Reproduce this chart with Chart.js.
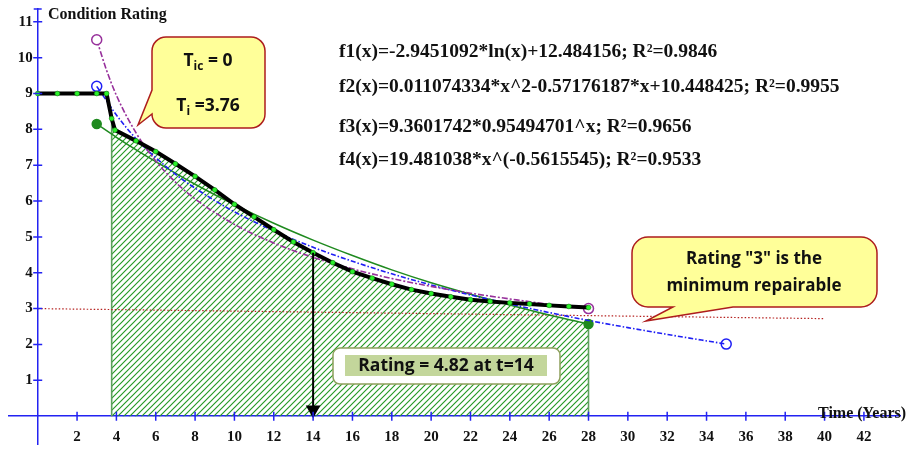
<!DOCTYPE html>
<html>
<head>
<meta charset="utf-8">
<title>Condition rating vs time</title>
<script src="https://cdn.jsdelivr.net/npm/chart.js@4.4.1/dist/chart.umd.min.js"></script>
<style>
  body { margin: 0; background: #fff; }
  #wrap { width: 909px; height: 453px; }
</style>
</head>
<body>
<div id="wrap"><canvas id="deterioration" width="909" height="453"></canvas></div>
<script>
// observed condition ratings (thick black line with green dots)
const observedYears  = [0, 1, 2, 3, 3.5, 3.76, 3.93, 5, 6, 7, 8, 9, 10, 11, 12, 13, 14, 15, 16, 17, 18, 19, 20, 21, 22, 23, 24, 25, 26, 27, 28];
const observedRating = [9, 9, 9, 9, 9, 8.3, 7.98, 7.68, 7.38, 7.04, 6.69, 6.31, 5.91, 5.56, 5.2, 4.86, 4.56, 4.28, 4.03, 3.85, 3.68, 3.53, 3.42, 3.33, 3.25, 3.2, 3.16, 3.13, 3.09, 3.06, 3.03];

// f1 logarithmic fit (blue dash-dot)
const f1Years  = [3, 3.5, 4, 5, 6, 7, 8, 10, 12, 14, 16, 18, 20, 22, 24, 26, 28, 30, 32, 35];
const f1Rating = [9.2, 8.8, 8.4, 7.74, 7.21, 6.75, 6.36, 5.7, 5.17, 4.71, 4.32, 3.97, 3.66, 3.38, 3.13, 2.89, 2.67, 2.47, 2.28, 2.01];

// f3 exponential fit (green solid)
const f3Years  = [3, 4, 6, 8, 10, 12, 14, 16, 18, 20, 22, 24, 26, 28];
const f3Rating = [8.15, 7.78, 7.1, 6.47, 5.9, 5.38, 4.91, 4.48, 4.08, 3.72, 3.4, 3.1, 2.82, 2.57];

// f4 power fit (purple dash-dot)
const f4Years  = [3, 3.5, 4, 5, 6, 7, 8, 10, 12, 14, 16, 18, 20, 22, 24, 26, 28];
const f4Rating = [10.5, 9.65, 8.95, 7.9, 7.12, 6.53, 6.06, 5.35, 4.83, 4.43, 4.11, 3.84, 3.62, 3.43, 3.27, 3.12, 3.0];

// hatched service-life area, from Ti = 3.76 to t = 28
const areaYears  = [3.76, 3.76, 3.93, 5, 6, 7, 8, 9, 10, 11, 12, 13, 14, 15, 16, 17, 18, 19, 20, 21, 22, 23, 24, 26, 28, 28];
const areaRating = [0, 8.3, 7.98, 7.68, 7.38, 7.04, 6.69, 6.31, 5.91, 5.56, 5.2, 4.86, 4.56, 4.28, 4.03, 3.85, 3.68, 3.53, 3.42, 3.33, 3.25, 3.2, 3.1, 2.82, 2.57, 0];

// minimum repairable rating line
const thresholdYears  = [0, 40];
const thresholdRating = [3, 2.72];

// rating read-off arrow at t = 14
const arrowYears  = [14, 14];
const arrowRating = [4.56, 0.18];

const fitEquations = [
  'f1(x)=-2.9451092*ln(x)+12.484156; R\u00b2=0.9846',
  'f2(x)=0.011074334*x^2-0.57176187*x+10.448425; R\u00b2=0.9955',
  'f3(x)=9.3601742*0.95494701^x; R\u00b2=0.9656',
  'f4(x)=19.481038*x^(-0.5615545); R\u00b2=0.9533'
];

const axisColor = '#2323f2';
const serif = '"Liberation Serif", "Times New Roman", serif';
const sans = '"Open Sans", Lato, sans-serif';

const toPoints = (xs, ys) => xs.map((x, i) => ({ x, y: ys[i] }));
const endsOnly = (n, r) => Array.from({ length: n }, (_, i) => (i === 0 || i === n - 1 ? r : 0));

const canvas = document.getElementById('deterioration');

// diagonal green hatching for the area under the curve
const hatch = (() => {
  const c = document.createElement('canvas');
  c.width = 6; c.height = 6;
  const g = c.getContext('2d');
  g.strokeStyle = '#249a24';
  g.lineWidth = 1.15;
  g.beginPath();
  g.moveTo(0, 6); g.lineTo(6, 0);
  g.moveTo(-1, 1); g.lineTo(1, -1);
  g.moveTo(5, 7); g.lineTo(7, 5);
  g.stroke();
  return canvas.getContext('2d').createPattern(c, 'repeat');
})();

// crossing tick marks and the cap on top of the rating axis
const axisMarks = {
  id: 'axisMarks',
  afterDatasetsDraw(chart) {
    const { ctx, scales: { x, y } } = chart;
    const x0 = x.getPixelForValue(0);
    const y0 = y.getPixelForValue(0);
    ctx.save();
    ctx.strokeStyle = axisColor;
    ctx.lineWidth = 1.5;
    ctx.beginPath();
    x.ticks.forEach(t => {
      if (t.value === 0) return;
      const p = x.getPixelForValue(t.value);
      ctx.moveTo(p, y0 - 4.5); ctx.lineTo(p, y0 + 4.5);
    });
    y.ticks.forEach(t => {
      if (t.value === 0) return;
      const p = y.getPixelForValue(t.value);
      ctx.moveTo(x0 - 4.5, p); ctx.lineTo(x0 + 4.5, p);
    });
    ctx.moveTo(x0 - 4, chart.chartArea.top + 0.5);
    ctx.lineTo(x0 + 4, chart.chartArea.top + 0.5);
    ctx.stroke();
    ctx.restore();
  }
};

function drawRuns(ctx, runs, cx, baseline) {
  // runs: [text, fontSize, baselineShift]
  let total = 0;
  runs.forEach(r => { ctx.font = `bold ${r[1]}px ${sans}`; total += ctx.measureText(r[0]).width; });
  let x = cx - total / 2;
  ctx.textAlign = 'left';
  ctx.textBaseline = 'alphabetic';
  runs.forEach(r => {
    ctx.font = `bold ${r[1]}px ${sans}`;
    ctx.fillText(r[0], x, baseline + r[2]);
    x += ctx.measureText(r[0]).width;
  });
}

const annotations = {
  id: 'annotations',
  afterDraw(chart) {
    const ctx = chart.ctx;
    ctx.save();

    // axis titles
    ctx.fillStyle = '#111';
    ctx.textBaseline = 'middle';
    ctx.textAlign = 'left';
    ctx.font = `bold 16px ${serif}`;
    ctx.fillText('Condition Rating', 48, 15);
    ctx.fillText('Time (Years)', 818, 414);

    // fit equations
    ctx.font = `bold 19.5px ${serif}`;
    [52, 87, 127, 160].forEach((yy, i) => ctx.fillText(fitEquations[i], 339, yy));

    // callout: Tic / Ti
    ctx.lineWidth = 1.5;
    ctx.strokeStyle = '#ad1d1d';
    ctx.fillStyle = '#ffff99';
    let L = 152, T = 37, R = 265, B = 128, r = 14;
    ctx.beginPath();
    ctx.moveTo(L + r, T);
    ctx.lineTo(R - r, T); ctx.arcTo(R, T, R, T + r, r);
    ctx.lineTo(R, B - r); ctx.arcTo(R, B, R - r, B, r);
    ctx.lineTo(L + r, B); ctx.arcTo(L, B, L, B - r, r);
    ctx.lineTo(138, 125);
    ctx.lineTo(L, 90);
    ctx.lineTo(L, T + r); ctx.arcTo(L, T, L + r, T, r);
    ctx.closePath();
    ctx.fill(); ctx.stroke();
    ctx.fillStyle = '#111';
    drawRuns(ctx, [['T', 17.5, 0], ['ic', 12, 4], [' = 0', 17.5, 0]], 208, 66);
    drawRuns(ctx, [['T', 17.5, 0], ['i', 12, 4], [' =3.76', 17.5, 0]], 208, 111);

    // callout: minimum repairable rating
    ctx.fillStyle = '#ffff99';
    L = 632; T = 237; R = 877; B = 307; r = 16;
    ctx.beginPath();
    ctx.moveTo(L + r, T);
    ctx.lineTo(R - r, T); ctx.arcTo(R, T, R, T + r, r);
    ctx.lineTo(R, B - r); ctx.arcTo(R, B, R - r, B, r);
    ctx.lineTo(733, B);
    ctx.lineTo(646, 321);
    ctx.lineTo(673, B);
    ctx.lineTo(L + r, B); ctx.arcTo(L, B, L, B - r, r);
    ctx.lineTo(L, T + r); ctx.arcTo(L, T, L + r, T, r);
    ctx.closePath();
    ctx.fill(); ctx.stroke();
    ctx.fillStyle = '#111';
    ctx.textAlign = 'center';
    ctx.textBaseline = 'middle';
    ctx.font = `bold 17px ${sans}`;
    ctx.fillText('Rating "3" is the', 754, 259);
    ctx.fillText('minimum repairable', 754, 286);

    // rating read-off box
    ctx.fillStyle = '#ffffff';
    ctx.strokeStyle = '#8ea05c';
    ctx.beginPath();
    ctx.roundRect(333, 348, 227, 36, 7);
    ctx.fill(); ctx.stroke();
    ctx.fillStyle = '#c3d69b';
    ctx.fillRect(345, 355, 202, 21);
    ctx.fillStyle = '#111';
    ctx.font = `bold 17.5px ${sans}`;
    ctx.fillText('Rating = 4.82 at t=14', 446, 366);

    ctx.restore();
  }
};

const tickFont = { family: serif, size: 15, weight: 'bold' };

new Chart(canvas, {
  type: 'line',
  data: {
    datasets: [
      {
        label: 'read-off',
        data: toPoints(arrowYears, arrowRating),
        borderColor: '#000',
        borderWidth: 2,
        pointStyle: 'triangle',
        rotation: 180,
        pointRadius: [0, 6.5],
        pointBackgroundColor: '#000',
        pointBorderColor: '#000'
      },
      {
        label: 'Observed',
        data: toPoints(observedYears, observedRating),
        borderColor: '#000',
        borderWidth: 4,
        tension: 0,
        pointRadius: 2.4,
        pointBackgroundColor: '#2bf02b',
        pointBorderColor: '#128a12',
        pointBorderWidth: 0.6
      },
      {
        label: 'f4',
        data: toPoints(f4Years, f4Rating),
        borderColor: '#97309b',
        borderWidth: 1.6,
        borderDash: [6, 2, 2, 2],
        cubicInterpolationMode: 'monotone',
        pointRadius: endsOnly(f4Years.length, 5),
        pointBackgroundColor: '#fff',
        pointBorderColor: '#97309b',
        pointBorderWidth: 1.5
      },
      {
        label: 'f1',
        data: toPoints(f1Years, f1Rating),
        borderColor: '#1f1ff5',
        borderWidth: 1.6,
        borderDash: [5, 2, 1.5, 2],
        cubicInterpolationMode: 'monotone',
        pointRadius: endsOnly(f1Years.length, 5),
        pointBackgroundColor: 'rgba(0,0,0,0)',
        pointBorderColor: '#1f1ff5',
        pointBorderWidth: 1.5
      },
      {
        label: 'f3',
        data: toPoints(f3Years, f3Rating),
        borderColor: '#1f8a1f',
        borderWidth: 1.5,
        cubicInterpolationMode: 'monotone',
        pointRadius: endsOnly(f3Years.length, 4.5),
        pointBackgroundColor: '#1f8a1f',
        pointBorderColor: '#1f8a1f'
      },
      {
        label: 'Minimum repairable',
        data: toPoints(thresholdYears, thresholdRating),
        borderColor: '#b5211f',
        borderWidth: 1.2,
        borderDash: [1.5, 2],
        pointRadius: 0
      },
      {
        label: 'Service area',
        data: toPoints(areaYears, areaRating),
        fill: 'origin',
        backgroundColor: hatch,
        borderWidth: 1.6,
        tension: 0,
        pointRadius: 0,
        segment: {
          borderColor: c => (c.p0.parsed.x === c.p1.parsed.x ? '#5d9f5d' : 'rgba(0,0,0,0)')
        }
      }
    ]
  },
  options: {
    responsive: false,
    animation: false,
    devicePixelRatio: 1,
    layout: { padding: { top: 7, left: 8, right: 0, bottom: 0 } },
    plugins: {
      legend: { display: false },
      tooltip: { enabled: false }
    },
    scales: {
      x: {
        type: 'linear',
        min: -1.485,
        max: 43.86,
        position: { y: 0 },
        afterFit: s => { s.paddingLeft = 0; s.paddingRight = 0; s.paddingTop = 0; s.paddingBottom = 0; },
        border: { display: true, color: axisColor, width: 1.5 },
        grid: { drawOnChartArea: false, drawTicks: false },
        ticks: {
          stepSize: 2,
          includeBounds: false,
          autoSkip: false,
          maxRotation: 0,
          padding: 12,
          color: '#111',
          font: tickFont,
          callback: v => (v === 0 ? '' : v)
        }
      },
      y: {
        type: 'linear',
        min: -0.791,
        max: 11.372,
        position: { x: 0 },
        afterFit: s => { s.paddingLeft = 0; s.paddingRight = 0; s.paddingTop = 0; s.paddingBottom = 0; },
        border: { display: true, color: axisColor, width: 1.5 },
        grid: { drawOnChartArea: false, drawTicks: false },
        ticks: {
          stepSize: 1,
          includeBounds: false,
          autoSkip: false,
          color: '#111',
          font: tickFont,
          // the value-positioned axis sets labels flush with the line, so pad with a space
          callback: v => (v === 0 ? '' : v + '\u0020\u200A')
        }
      }
    }
  },
  plugins: [axisMarks, annotations]
});
</script>
</body>
</html>
